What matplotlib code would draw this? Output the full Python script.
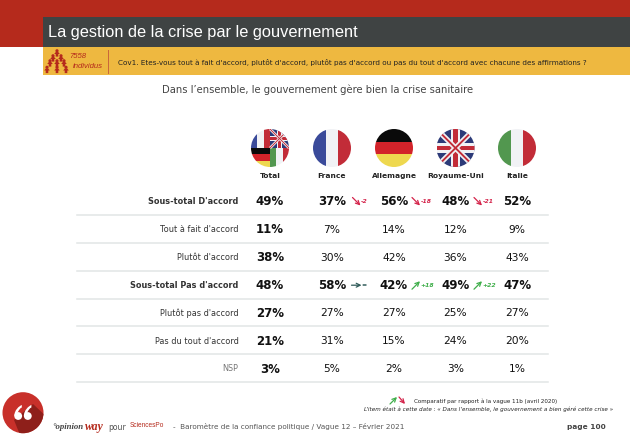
import matplotlib
matplotlib.use('Agg')
import matplotlib.pyplot as plt
from matplotlib.patches import Rectangle, Circle, Polygon, PathPatch
from matplotlib.path import Path

# ---- data ----
columns = ['Total', 'France', 'Allemagne', 'Royaume-Uni', 'Italie']
row_labels = ['Sous-total D\'accord', 'Tout à fait d\'accord', 'Plutôt d\'accord',
              'Sous-total Pas d\'accord', 'Plutôt pas d\'accord', 'Pas du tout d\'accord', 'NSP']
total = [49, 11, 38, 48, 27, 21, 3]
france = [37, 7, 30, 58, 27, 31, 5]
allemagne = [56, 14, 42, 42, 27, 15, 2]
royaume_uni = [48, 12, 36, 49, 25, 24, 3]
italie = [52, 9, 43, 47, 27, 20, 1]
values = [total, france, allemagne, royaume_uni, italie]
bold_rows = [0, 3]
# evolutions: (row, column, text)
deltas = [(0, 1, '-2'), (0, 2, '-18'), (0, 3, '-21'), (3, 1, '='), (3, 2, '+18'), (3, 3, '+22')]

# ---- layout ----
col_x = [270, 332, 394, 455.5, 517]
arrow_off = {1: 24.5, 2: 22, 3: 22.5}
row_y0, row_h = 201.5, 27.9
RED, DARK, YEL = '#b52a1c', '#3f4343', '#eeb840'
SANS = 'Liberation Sans'; VER = 'DejaVu Sans'

fig = plt.figure(figsize=(6.3, 4.37), dpi=100)
ax = fig.add_axes([0, 0, 1, 1])
ax.set_xlim(0, 630); ax.set_ylim(437, 0); ax.axis('off')

# header
ax.add_patch(Rectangle((0, 0), 630, 47, color=RED, lw=0))
ax.add_patch(Rectangle((42.5, 17), 587.5, 30, color=DARK, lw=0))
ax.add_patch(Rectangle((42.5, 47), 587.5, 28, color=YEL, lw=0))
ax.text(48, 32.5, 'La gestion de la crise par le gouvernement', color='white',
        family=SANS, fontsize=11.8, va='center')
ax.plot([108, 108], [50, 73], color='#c9663a', lw=0.7)
ax.text(69, 56, '7558', color=RED, family=SANS, style='italic', fontsize=5.6, va='center')
ax.text(73, 67, 'individus', color=RED, family=SANS, style='italic', fontsize=5.6, va='center')
for px, py in [(57, 53), (53, 58), (61, 58), (50, 63), (57, 63), (64, 63), (47, 69.5), (57, 69.5), (66, 69.5)]:
    ax.add_patch(Circle((px, py - 2.2), 1.6, color=RED, lw=0))
    ax.add_patch(Polygon([(px - 1.2, py - 1), (px + 1.2, py - 1), (px + 2.8, py + 1), (px + 1.3, py + 1),
                          (px + 1.3, py + 3.6), (px - 1.3, py + 3.6), (px - 1.3, py + 1), (px - 2.8, py + 1)],
                         color=RED, lw=0))
ax.text(118, 62, "Cov1. Etes-vous tout à fait d'accord, plutôt d'accord, plutôt pas d'accord ou pas du tout d'accord avec chacune des affirmations ?",
        family=VER, fontsize=5.25, color='#222222', va='center')
ax.text(317.5, 90, "Dans l’ensemble, le gouvernement gère bien la crise sanitaire",
        family=VER, fontsize=7.2, color='#444444', ha='center', va='center')


def flag(cx, cy, r, kind, box=None):
    clip = Circle((cx, cy), r, transform=ax.transData, fc='none', ec='none')
    ax.add_patch(clip)
    x0, y0, w, h = box if box else (cx - r, cy - r, 2 * r, 2 * r)
    arts = []
    def R(x, y, ww, hh, c):
        arts.append(ax.add_patch(Rectangle((x, y), ww, hh, color=c, lw=0)))
    if kind in ('fr', 'it'):
        a, b, c = ('#3a4a9a', '#f1f2f5', '#c22c38') if kind == 'fr' else ('#52974f', '#f1f2f5', '#c22c38')
        R(x0, y0, w / 3, h, a); R(x0 + w / 3, y0, w / 3, h, b); R(x0 + 2 * w / 3, y0, w / 3, h, c)
    elif kind == 'de':
        for i, c in enumerate(['#0a0a0a', '#d2232a', '#eed84f']):
            R(x0, y0 + i * h / 3, w, h / 3, c)
    elif kind == 'uk':
        R(x0, y0, w, h, '#2c3a78')
        for lw_, col in [(0.14 * h, '#f1f2f5'), (0.05 * h, '#c22c38')]:
            for (a, b) in [((x0, y0), (x0 + w, y0 + h)), ((x0, y0 + h), (x0 + w, y0))]:
                l, = ax.plot([a[0], b[0]], [a[1], b[1]], color=col, lw=lw_ * 0.72, solid_capstyle='butt')
                arts.append(l)
        R(x0 + w * 0.38, y0, w * 0.24, h, '#f1f2f5'); R(x0, y0 + h * 0.38, w, h * 0.24, '#f1f2f5')
        R(x0 + w * 0.44, y0, w * 0.12, h, '#c22c38'); R(x0, y0 + h * 0.44, w, h * 0.12, '#c22c38')
    for a_ in arts:
        a_.set_clip_path(clip)


fy, fr = 148, 19
flag(col_x[1], fy, fr, 'fr'); flag(col_x[2], fy, fr, 'de')
flag(col_x[3], fy, fr, 'uk'); flag(col_x[4], fy, fr, 'it')
cx = col_x[0]
flag(cx, fy, fr, 'fr', (cx - fr, fy - fr, fr, fr))
flag(cx, fy, fr, 'uk', (cx, fy - fr, fr, fr))
flag(cx, fy, fr, 'de', (cx - fr, fy, fr, fr))
flag(cx, fy, fr, 'it', (cx, fy, fr, fr))

for x, name in zip(col_x, columns):
    ax.text(x, 176, name, family=VER, weight='bold', fontsize=5.4, color='#222222', ha='center', va='center')

# table
for i, lab in enumerate(row_labels):
    y = row_y0 + i * row_h
    b = i in bold_rows
    c = '#777777' if lab == 'NSP' else '#333333'
    ax.text(238.5, y, lab, family=VER, weight='bold' if b else 'normal', fontsize=5.85, color=c, ha='right', va='center')
    ax.plot([77, 548], [y + 13.3, y + 13.3], color='#e1e5e5', lw=1.1)
    for j, (x, vals) in enumerate(zip(col_x, values)):
        strong = b or j == 0
        ax.text(x, y + 0.3, f'{vals[i]}%', family=VER, weight='bold' if strong else 'normal',
                fontsize=8.5 if strong else 7.7, color='#111111', ha='center', va='center')

# evolution markers
for r, c, d in deltas:
    y = row_y0 + r * row_h
    x = col_x[c] + arrow_off[c]
    if d.startswith('-'):
        col, p0, p1 = '#d4234a', (x - 4, y - 4), (x + 4, y + 4)
    elif d.startswith('+'):
        col, p0, p1 = '#3fae4a', (x - 4, y + 4), (x + 4, y - 4)
    else:
        col, p0, p1 = '#2f5a58', (x - 5, y), (x + 5, y)
    ax.annotate('', xy=p1, xytext=p0, arrowprops=dict(arrowstyle='->', color=col, lw=0.9, mutation_scale=7,
                                                      shrinkA=0, shrinkB=0))
    ax.text(x + 4.5, y, d, family=VER, weight='bold', style='italic', fontsize=4.4, color=col, va='center')

# legend notes
ax.annotate('', xy=(397, 397), xytext=(390, 404), arrowprops=dict(arrowstyle='->', color='#3fae4a', lw=0.9, mutation_scale=7, shrinkA=0, shrinkB=0))
ax.annotate('', xy=(405, 404), xytext=(399, 397), arrowprops=dict(arrowstyle='->', color='#d4234a', lw=0.9, mutation_scale=7, shrinkA=0, shrinkB=0))
ax.text(414, 400.8, 'Comparatif par rapport à la vague 11b (avril 2020)', family=VER, fontsize=4.07, color='#222222', va='center')
ax.text(613, 409, "L’item était à cette date : « Dans l’ensemble, le gouvernement a bien géré cette crise »",
        family=VER, style='italic', fontsize=4.1, color='#222222', ha='right', va='center')

# footer
disc = Circle((23, 412.7), 20.5, color='#c8302a', lw=0)
ax.add_patch(disc)
sh = Polygon([(14, 420), (33, 404), (50, 420), (30, 440), (22, 440)], color='#8e1f1a', lw=0)
ax.add_patch(sh)
sh.set_clip_path(Circle((23, 412.7), 20.5, transform=ax.transData))
for qx in (18.2, 27.8):
    ax.add_patch(Circle((qx, 416), 3.9, color='white', lw=0))
    verts = [(qx - 3.9, 416), (qx - 3.9, 410), (qx + 1, 406), (qx + 3.6, 405),
             (qx + 3.6, 407.5), (qx, 409), (qx, 414), (qx - 3.9, 416)]
    codes = [Path.MOVETO, Path.CURVE4, Path.CURVE4, Path.CURVE4, Path.LINETO, Path.CURVE4, Path.CURVE4, Path.CURVE4]
    ax.add_patch(PathPatch(Path(verts, codes), color='white', lw=0))
ax.text(52, 427, '°opinion', family='Liberation Serif', style='italic', weight='bold', fontsize=6.3, color='#444444', va='center')
ax.text(84.5, 427, 'way', family='Liberation Serif', style='italic', weight='bold', fontsize=8.4, color=RED, va='center')
ax.text(108, 427, 'pour', family=VER, fontsize=5.6, color='#555555', va='center')
ax.text(130, 425.5, 'SciencesPo', family=SANS, fontsize=4.7, color=RED, va='center')
ax.text(173, 427, '-  Baromètre de la confiance politique / Vague 12 – Février 2021', family=VER, fontsize=5.2, color='#555555', va='center')
ax.text(606, 427, 'page 100', family=VER, weight='bold', fontsize=5.3, color='#444444', ha='right', va='center')

fig.savefig('out.png', dpi=100)
